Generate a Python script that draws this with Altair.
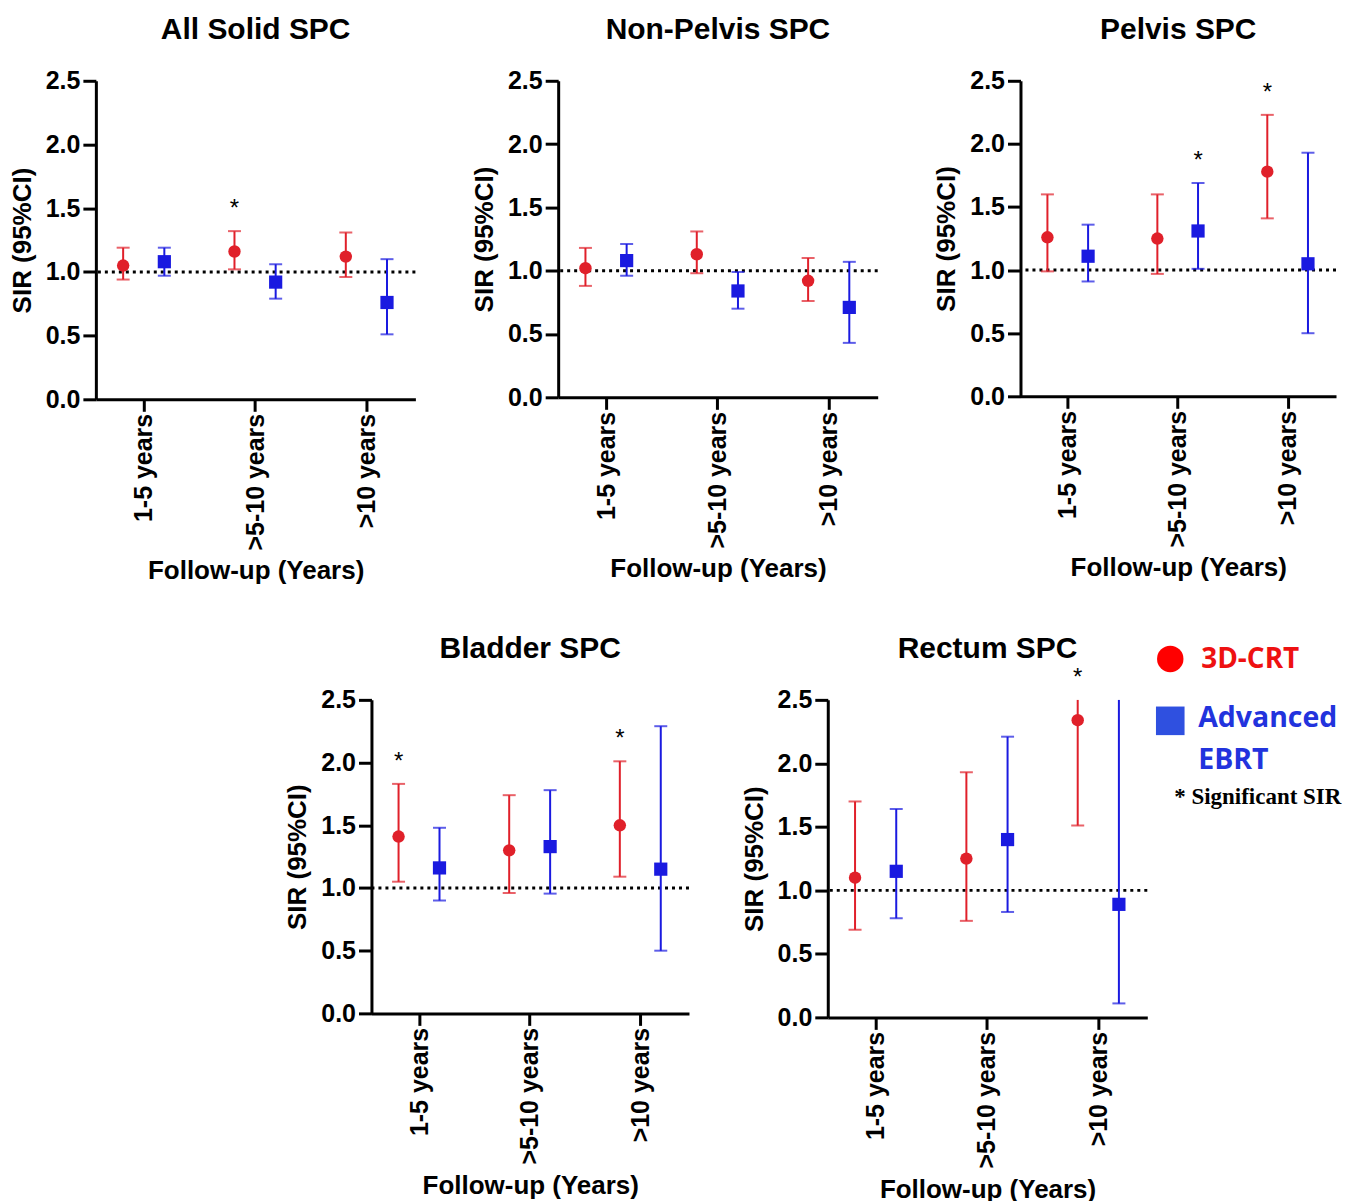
import altair as alt
import pandas as pd

# ---------------- data ----------------
categories = ["1-5 years", ">5-10 years", ">10 years"]
groups = ["3D-CRT", "Advanced EBRT"]
panels = ["All Solid SPC", "Non-Pelvis SPC", "Pelvis SPC", "Bladder SPC", "Rectum SPC"]

all_solid_3d_est = [1.05, 1.16, 1.12]
all_solid_3d_lo = [0.94, 1.02, 0.96]
all_solid_3d_hi = [1.19, 1.32, 1.31]
all_solid_adv_est = [1.08, 0.92, 0.76]
all_solid_adv_lo = [0.97, 0.79, 0.51]
all_solid_adv_hi = [1.19, 1.06, 1.10]
all_solid_3d_sig = [False, True, False]
all_solid_adv_sig = [False, False, False]

nonpelvis_3d_est = [1.02, 1.13, 0.92]
nonpelvis_3d_lo = [0.88, 0.98, 0.76]
nonpelvis_3d_hi = [1.18, 1.31, 1.10]
nonpelvis_adv_est = [1.08, 0.84, 0.71]
nonpelvis_adv_lo = [0.96, 0.70, 0.43]
nonpelvis_adv_hi = [1.21, 0.99, 1.07]
nonpelvis_3d_sig = [False, False, False]
nonpelvis_adv_sig = [False, False, False]

pelvis_3d_est = [1.26, 1.25, 1.78]
pelvis_3d_lo = [0.99, 0.97, 1.41]
pelvis_3d_hi = [1.60, 1.60, 2.23]
pelvis_adv_est = [1.11, 1.31, 1.05]
pelvis_adv_lo = [0.91, 1.01, 0.50]
pelvis_adv_hi = [1.36, 1.69, 1.93]
pelvis_3d_sig = [False, False, True]
pelvis_adv_sig = [False, True, False]

bladder_3d_est = [1.41, 1.30, 1.50]
bladder_3d_lo = [1.05, 0.96, 1.09]
bladder_3d_hi = [1.83, 1.74, 2.01]
bladder_adv_est = [1.16, 1.33, 1.15]
bladder_adv_lo = [0.90, 0.955, 0.50]
bladder_adv_hi = [1.48, 1.78, 2.29]
bladder_3d_sig = [True, False, True]
bladder_adv_sig = [False, False, False]

# upper limits of the >10 years intervals run off the top of the axis (shown as 2.5)
rectum_3d_est = [1.10, 1.25, 2.34]
rectum_3d_lo = [0.69, 0.76, 1.51]
rectum_3d_hi = [1.70, 1.93, 2.5]
rectum_adv_est = [1.15, 1.40, 0.89]
rectum_adv_lo = [0.78, 0.83, 0.11]
rectum_adv_hi = [1.64, 2.21, 2.5]
rectum_3d_sig = [False, False, True]
rectum_adv_sig = [False, False, False]

legend_red_label = "3D-CRT"
legend_blue_lines = ["Advanced", "EBRT"]
legend_note = "* Significant SIR"

panel_data = {
    "All Solid SPC": [(all_solid_3d_est, all_solid_3d_lo, all_solid_3d_hi, all_solid_3d_sig),
                      (all_solid_adv_est, all_solid_adv_lo, all_solid_adv_hi, all_solid_adv_sig)],
    "Non-Pelvis SPC": [(nonpelvis_3d_est, nonpelvis_3d_lo, nonpelvis_3d_hi, nonpelvis_3d_sig),
                       (nonpelvis_adv_est, nonpelvis_adv_lo, nonpelvis_adv_hi, nonpelvis_adv_sig)],
    "Pelvis SPC": [(pelvis_3d_est, pelvis_3d_lo, pelvis_3d_hi, pelvis_3d_sig),
                   (pelvis_adv_est, pelvis_adv_lo, pelvis_adv_hi, pelvis_adv_sig)],
    "Bladder SPC": [(bladder_3d_est, bladder_3d_lo, bladder_3d_hi, bladder_3d_sig),
                    (bladder_adv_est, bladder_adv_lo, bladder_adv_hi, bladder_adv_sig)],
    "Rectum SPC": [(rectum_3d_est, rectum_3d_lo, rectum_3d_hi, rectum_3d_sig),
                   (rectum_adv_est, rectum_adv_lo, rectum_adv_hi, rectum_adv_sig)],
}

rows = []
for p in panels:
    for g, (est, lo, hi, sig) in zip(groups, panel_data[p]):
        for i, c in enumerate(categories):
            rows.append({"panel": p, "group": g, "cat": i, "category": c,
                         "est": est[i], "lo": lo[i], "hi": hi[i], "sig": sig[i]})
df = pd.DataFrame(rows)

# ---------------- styling ----------------
FONT = "Liberation Sans"
RED = "#f00000"
RED_BAR = "#e0202a"
BLUE = "#0000f0"
BLUE_BAR = "#1a1ae0"
color_scale = alt.Scale(domain=groups, range=[RED, BLUE])
bar_scale = alt.Scale(domain=groups, range=[RED_BAR, BLUE_BAR])
shape_scale = alt.Scale(domain=groups, range=["circle", "square"])
size_scale = alt.Scale(domain=groups, range=[155, 175])

label_expr = "['1-5 years','>5-10 years','>10 years'][datum.value]"


def make_panel(name, w, h, title_offset=24):
    base = alt.Chart(df).transform_filter(alt.datum.panel == name).transform_calculate(
        xpos="datum.cat + (datum.group == '3D-CRT' ? -0.185 : 0.185)"
    )
    x_enc = alt.X(
        "xpos:Q",
        scale=alt.Scale(domain=[-0.43, 2.44], nice=False, zero=False),
        axis=alt.Axis(
            values=[0, 1, 2], labelExpr=label_expr, labelAngle=-90, title="Follow-up (Years)",
            grid=False, domainColor="black", domainWidth=3, tickColor="black", tickWidth=3,
            tickSize=12, labelFont=FONT, labelFontSize=25, labelFontWeight="bold",
            labelColor="black", labelPadding=2, titleFont=FONT, titleFontSize=26,
            titleFontWeight="bold", titleColor="black", titlePadding=8,
        ),
    )
    y_scale = alt.Scale(domain=[0, 2.5], nice=False)
    y_axis = alt.Axis(
        values=[0, 0.5, 1.0, 1.5, 2.0, 2.5], format=".1f", title="SIR (95%CI)", grid=False,
        domainColor="black", domainWidth=3, tickColor="black", tickWidth=3, tickSize=13,
        labelFont=FONT, labelFontSize=25, labelFontWeight="bold", labelColor="black",
        labelPadding=3, titleFont=FONT, titleFontSize=26, titleFontWeight="bold",
        titleColor="black", titlePadding=10,
    )
    ref = alt.Chart(pd.DataFrame({"ref": [1.0]})).mark_rule(
        color="black", strokeWidth=3, strokeDash=[3, 4]
    ).encode(y=alt.Y("ref:Q", scale=y_scale, axis=y_axis))
    bars = base.mark_rule(strokeWidth=2, clip=True).encode(
        x=x_enc, y=alt.Y("lo:Q", scale=y_scale, axis=y_axis), y2="hi:Q",
        color=alt.Color("group:N", scale=bar_scale, legend=None),
    )
    cap_lo = base.mark_tick(orient="horizontal", size=13, thickness=2).encode(
        x=x_enc, y=alt.Y("lo:Q", scale=y_scale, axis=y_axis),
        color=alt.Color("group:N", scale=bar_scale, legend=None),
    )
    cap_hi = base.transform_filter(alt.datum.hi < 2.5).mark_tick(
        orient="horizontal", size=13, thickness=2
    ).encode(
        x=x_enc, y=alt.Y("hi:Q", scale=y_scale, axis=y_axis),
        color=alt.Color("group:N", scale=bar_scale, legend=None),
    )
    pts = base.mark_point(filled=True, opacity=1).encode(
        x=x_enc, y=alt.Y("est:Q", scale=y_scale, axis=y_axis),
        color=alt.Color("group:N", scale=color_scale, legend=None),
        shape=alt.Shape("group:N", scale=shape_scale, legend=None),
        size=alt.Size("group:N", scale=size_scale, legend=None),
    )
    stars = base.transform_filter(alt.datum.sig).mark_text(
        text="*", fontSize=24, font=FONT, color="black", baseline="middle", dy=-22
    ).encode(x=x_enc, y=alt.Y("hi:Q", scale=y_scale, axis=y_axis))
    return alt.layer(ref, bars, cap_lo, cap_hi, pts, stars).properties(
        width=w, height=h,
        title=alt.TitleParams(name, font=FONT, fontSize=30, fontWeight="bold", color="black",
                              anchor="middle", frame="group", offset=title_offset),
    )


p1 = make_panel("All Solid SPC", 320, 319)
p2 = make_panel("Non-Pelvis SPC", 320, 317)
p3 = make_panel("Pelvis SPC", 316, 316)
p4 = make_panel("Bladder SPC", 318, 314)
p5 = make_panel("Rectum SPC", 320, 318, title_offset=2)

# ---------------- custom legend ----------------
one = pd.DataFrame({"k": [0]})
leg_circle = alt.Chart(one).mark_point(
    filled=True, shape="circle", size=700, color="#ff0000", opacity=1
).encode(x=alt.value(14), y=alt.value(-41))
leg_square = alt.Chart(one).mark_point(
    filled=True, shape="square", size=820, color="#2f50e0", opacity=1
).encode(x=alt.value(14), y=alt.value(21))
leg_red_txt = alt.Chart(one).mark_text(
    text=legend_red_label, align="left", baseline="middle", font="Open Sans", fontSize=28,
    fontWeight="bold", color="#ee1111"
).encode(x=alt.value(45), y=alt.value(-40))
leg_blue_txt1 = alt.Chart(one).mark_text(
    text=legend_blue_lines[0], align="left", baseline="middle", font="Open Sans", fontSize=28.5,
    fontWeight="bold", color="#2233dd"
).encode(x=alt.value(42), y=alt.value(18))
leg_blue_txt2 = alt.Chart(one).mark_text(
    text=legend_blue_lines[1], align="left", baseline="middle", font="Open Sans", fontSize=28.5,
    fontWeight="bold", color="#2233dd"
).encode(x=alt.value(42), y=alt.value(60))
leg_note = alt.Chart(one).mark_text(
    text=legend_note, align="left", baseline="middle", font="Liberation Serif", fontSize=23,
    fontWeight="bold", color="black"
).encode(x=alt.value(18), y=alt.value(97))
legend = alt.layer(leg_circle, leg_square, leg_red_txt, leg_blue_txt1, leg_blue_txt2,
                   leg_note).properties(width=180, height=120)

spacer = alt.Chart(one).mark_text(text="").encode(
    x=alt.value(0), y=alt.value(0)
).properties(width=139, height=10)

top = alt.hconcat(p1, p2, p3, spacing=54)
bottom = alt.hconcat(spacer, p4, alt.hconcat(p5, legend, spacing=6), spacing=50)

chart = alt.vconcat(top, bottom, spacing=50).properties(
    padding={"left": 1, "top": 6, "right": 0, "bottom": 0}, background="white"
).configure_view(stroke="transparent", strokeWidth=0)

chart.save("out.html", embed_options={"renderer": "svg", "actions": False})
